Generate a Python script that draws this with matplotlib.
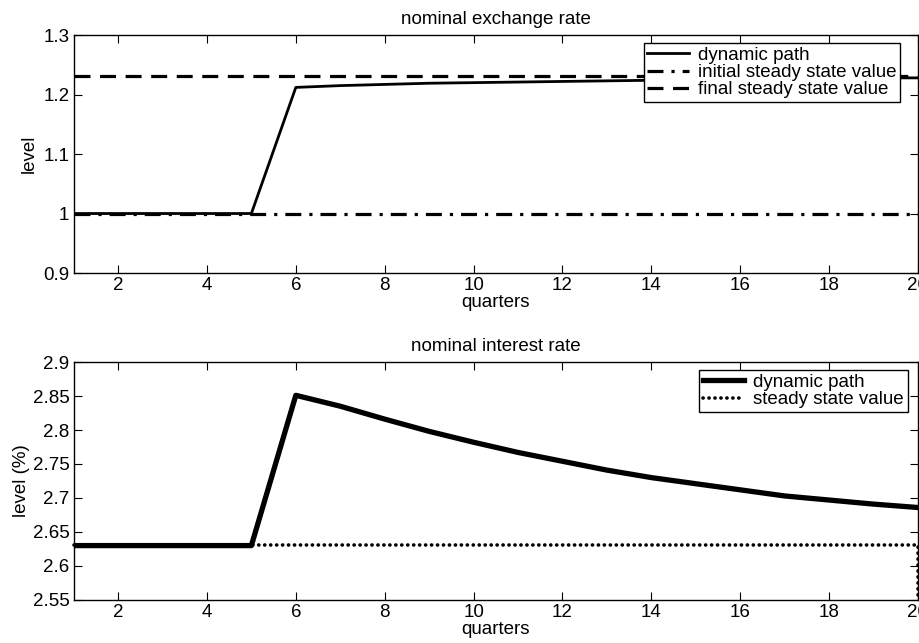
import matplotlib
matplotlib.use("Agg")
import matplotlib.pyplot as plt

plt.rcParams['font.family'] = ['Liberation Sans', 'DejaVu Sans']
FS = 13.5
plt.rcParams['font.size'] = FS

quarters = list(range(1, 21))

# nominal exchange rate
fx_dynamic = [1.0, 1.0, 1.0, 1.0, 1.0, 1.212, 1.215, 1.217, 1.219, 1.220,
              1.221, 1.222, 1.223, 1.224, 1.225, 1.226, 1.227, 1.227, 1.228, 1.228]
fx_initial_ss = [1.0] * 20
fx_final_ss = [1.231] * 20

# nominal interest rate (%)
ir_dynamic = [2.63, 2.63, 2.63, 2.63, 2.63, 2.851, 2.835, 2.816, 2.798, 2.782,
              2.767, 2.754, 2.741, 2.730, 2.721, 2.712, 2.703, 2.697, 2.691, 2.686]
ir_ss_quarters = quarters + [20]
ir_ss = [2.631] * 20 + [2.55]

xticks = [2, 4, 6, 8, 10, 12, 14, 16, 18, 20]

fig = plt.figure(figsize=(9.19, 6.43), dpi=100)
ax1 = fig.add_axes([0.0801, 0.5754, 0.9188, 0.3701])
ax2 = fig.add_axes([0.0801, 0.0669, 0.9188, 0.3701])


def style_axes(ax):
    ax.set_xlim(1, 20)
    ax.set_xticks(xticks)
    ax.tick_params(direction='in', top=True, right=True, length=6, width=0.8,
                   labelsize=FS, pad=3)
    for s in ax.spines.values():
        s.set_linewidth(1.0)
    ax.set_xlabel('quarters', fontsize=FS, labelpad=0)


ax1.plot(quarters, fx_dynamic, color='black', lw=2.0, label='dynamic path',
         zorder=3)
ax1.plot(quarters, fx_initial_ss, color='black', lw=2.3,
         dashes=(5, 2.5, 1, 2.5), label='initial steady state value')
ax1.plot(quarters, fx_final_ss, color='black', lw=2.3, dashes=(5, 3),
         label='final steady state value')
ax1.set_ylim(0.9, 1.3)
ax1.set_yticks([0.9, 1.0, 1.1, 1.2, 1.3])
ax1.set_yticklabels(['0.9', '1', '1.1', '1.2', '1.3'])
ax1.set_ylabel('level', fontsize=FS, labelpad=4)
ax1.set_title('nominal exchange rate', fontsize=FS, pad=8)
style_axes(ax1)
leg1 = ax1.legend(loc='upper right', bbox_to_anchor=(0.979, 0.966),
                  borderaxespad=0, fancybox=False, framealpha=1,
                  edgecolor='black', handlelength=2.2, handletextpad=0.5,
                  labelspacing=0.0, borderpad=0.2, fontsize=FS)
leg1.get_frame().set_linewidth(1.0)

ax2.plot(quarters, ir_dynamic, color='black', lw=3.8, label='dynamic path',
         zorder=3)
ax2.plot(ir_ss_quarters, ir_ss, color='black', lw=2.6, dashes=(0.05, 1.6),
         dash_capstyle='round', label='steady state value', clip_on=False)
ax2.set_ylim(2.55, 2.9)
ax2.set_yticks([2.55, 2.6, 2.65, 2.7, 2.75, 2.8, 2.85, 2.9])
ax2.set_yticklabels(['2.55', '2.6', '2.65', '2.7', '2.75', '2.8', '2.85', '2.9'])
ax2.set_ylabel('level (%)', fontsize=FS, labelpad=2)
ax2.set_title('nominal interest rate', fontsize=FS, pad=8)
style_axes(ax2)
leg2 = ax2.legend(loc='upper right', bbox_to_anchor=(0.988, 0.966),
                  borderaxespad=0, fancybox=False, framealpha=1,
                  edgecolor='black', handlelength=2.2, handletextpad=0.5,
                  labelspacing=0.0, borderpad=0.2, fontsize=FS)
leg2.get_frame().set_linewidth(1.0)

fig.savefig('out.png', dpi=100)
